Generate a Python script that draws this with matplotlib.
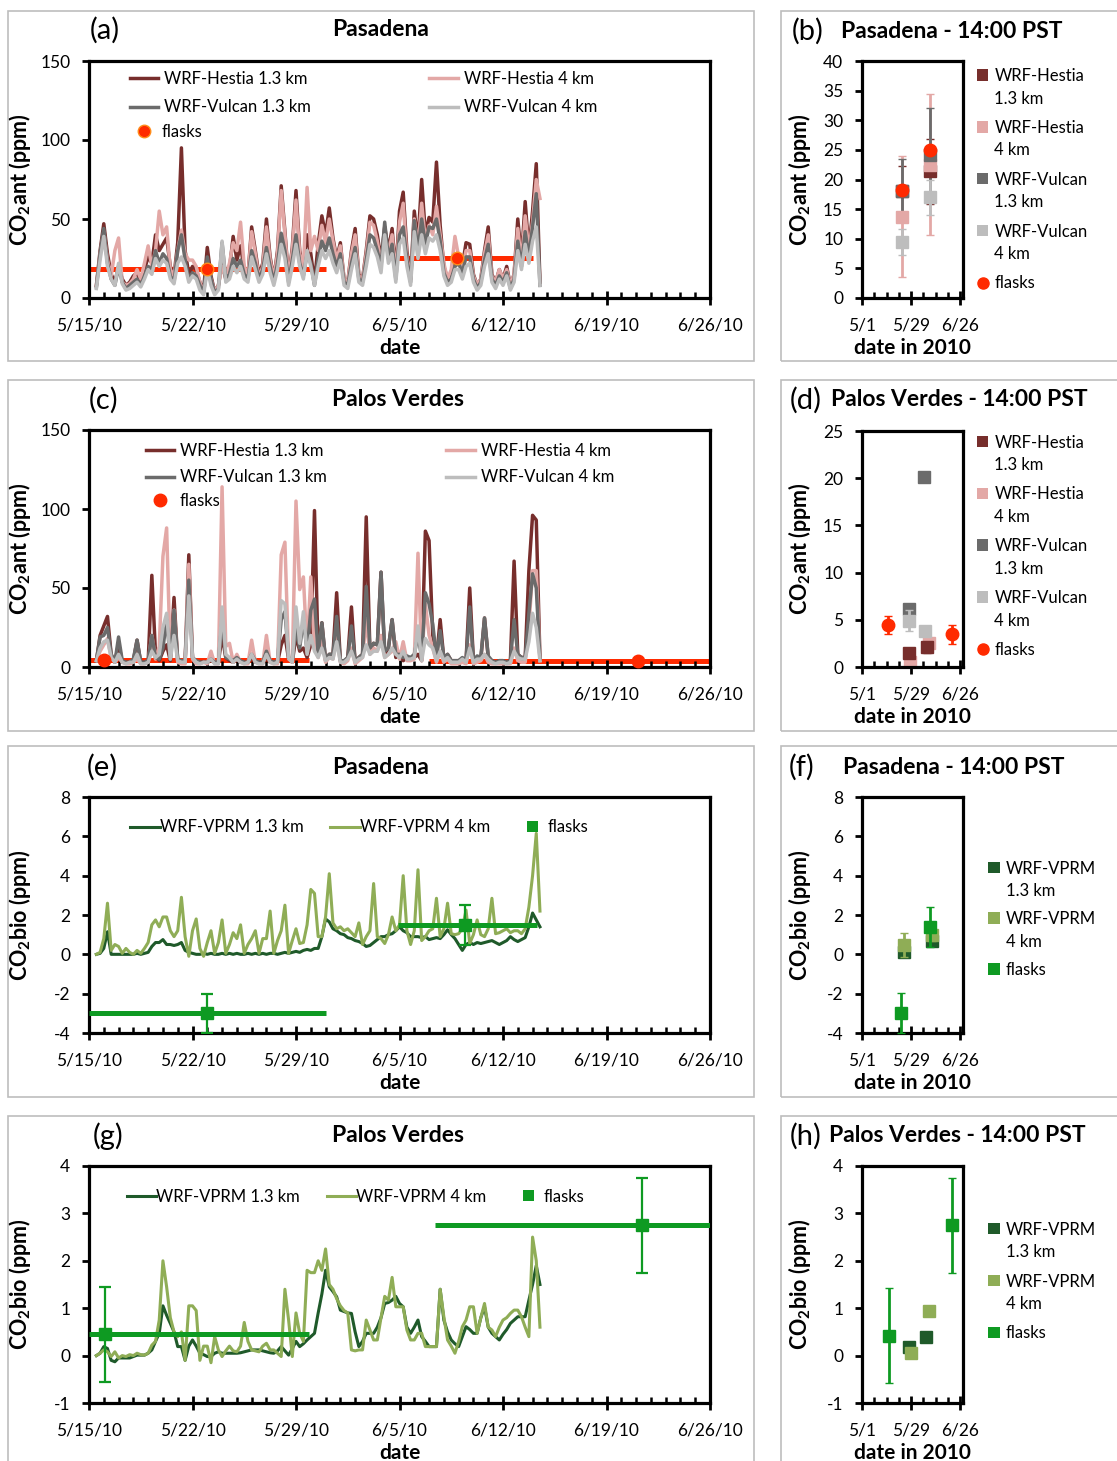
import numpy as np
import matplotlib.pyplot as plt
from matplotlib.patches import Rectangle
from matplotlib.lines import Line2D
from matplotlib.legend_handler import HandlerBase

plt.rcParams['font.family'] = ['Lato', 'DejaVu Sans']
plt.rcParams['mathtext.fontset'] = 'custom'
plt.rcParams['mathtext.rm'] = 'Lato'
plt.rcParams['mathtext.bf'] = 'Lato:bold'
plt.rcParams['axes.unicode_minus'] = False

# ---- model time series, every 6 h, days since 5/15/10 (first value at day 0.5)
a_h13 = [8, 30,
         47, 28, 15, 10, 20, 12, 8, 10, 14, 16, 9, 18, 26, 22, 40, 30,
         34, 38, 20, 14, 35, 95, 30, 15, 20, 18, 10, 5, 32, 14, 4, 8,
         22, 12, 18, 39, 24, 33, 18, 14, 45, 30, 14, 22, 50, 26, 12, 30,
         71, 42, 12, 32, 68, 30, 16, 40, 28, 10, 34, 52, 40, 57, 38, 25,
         35, 12, 10, 30, 44, 15, 12, 30, 52, 50, 40, 24, 45, 30, 44, 15,
         55, 67, 30, 12, 55, 35, 75, 40, 51, 48, 86, 46, 20, 12, 15, 25,
         28, 20, 35, 34, 15, 8, 12, 30, 45, 15, 10, 18, 12, 20, 8, 15,
         50, 25, 61, 30, 55, 85, 10]
a_h4 = [8, 28,
        42, 24, 14, 30, 38, 10, 8, 9, 12, 18, 12, 22, 33, 20, 30, 55,
        40, 45, 18, 14, 30, 43, 28, 24, 24, 20, 10, 4, 18, 12, 4, 8,
        20, 14, 22, 35, 30, 48, 20, 14, 42, 28, 12, 20, 45, 24, 12, 28,
        68, 40, 12, 30, 62, 28, 20, 70, 30, 39, 30, 46, 35, 50, 36, 24,
        33, 12, 10, 28, 40, 14, 12, 28, 48, 46, 36, 22, 42, 28, 40, 14,
        48, 60, 26, 12, 50, 32, 60, 36, 46, 40, 58, 40, 22, 12, 18, 39,
        26, 18, 30, 30, 14, 8, 12, 28, 40, 14, 10, 18, 12, 18, 8, 15,
        44, 22, 52, 30, 48, 75, 63]
a_v13 = [7, 28,
         44, 22, 12, 8, 20, 10, 6, 8, 10, 12, 8, 14, 20, 18, 30, 22,
         28, 25, 14, 10, 30, 40, 24, 12, 16, 14, 8, 3, 26, 12, 3, 6,
         35, 12, 15, 25, 20, 24, 15, 12, 30, 22, 12, 18, 32, 20, 10, 22,
         41, 30, 10, 24, 40, 22, 14, 28, 22, 8, 25, 36, 30, 38, 28, 20,
         28, 10, 8, 22, 32, 12, 10, 24, 40, 38, 30, 20, 48, 25, 34, 12,
         40, 45, 24, 10, 49, 30, 50, 34, 45, 44, 50, 36, 16, 10, 12, 20,
         22, 16, 26, 26, 12, 6, 10, 24, 34, 12, 8, 14, 10, 16, 6, 12,
         36, 20, 42, 26, 45, 66, 8]
a_v4 = [6, 24,
        39, 20, 12, 8, 22, 9, 5, 6, 8, 10, 7, 12, 18, 15, 25, 20,
        24, 22, 12, 9, 22, 26, 20, 10, 14, 12, 5, 2, 18, 8, 2, 5,
        36, 10, 12, 20, 16, 20, 12, 10, 26, 18, 10, 15, 28, 16, 8, 18,
        34, 25, 8, 20, 34, 20, 12, 30, 20, 8, 20, 30, 25, 30, 22, 16,
        24, 8, 6, 18, 28, 10, 8, 20, 34, 32, 26, 16, 40, 22, 28, 10,
        34, 38, 20, 8, 42, 25, 40, 28, 38, 36, 40, 30, 14, 8, 10, 18,
        18, 12, 20, 22, 10, 5, 8, 20, 28, 10, 6, 12, 8, 14, 5, 10,
        30, 18, 34, 22, 36, 45, 8]

c_h13 = [4, 20,
         26, 32, 8, 3, 15, 3, 3, 3, 4, 17, 3, 3, 3, 58, 8, 4,
         10, 14, 4, 44, 4, 3, 3, 71, 6, 3, 3, 3, 3, 4, 3, 3,
         20, 6, 4, 3, 5, 3, 3, 3, 6, 3, 3, 3, 6, 3, 3, 3,
         14, 20, 5, 3, 20, 10, 12, 6, 14, 99, 8, 28, 4, 8, 8, 47,
         4, 3, 6, 38, 3, 6, 8, 95, 10, 15, 14, 60, 8, 12, 30, 6,
         8, 4, 6, 5, 6, 8, 4, 86, 80, 20, 5, 30, 5, 8, 4, 4,
         4, 5, 4, 50, 4, 6, 5, 31, 6, 4, 3, 4, 4, 3, 4, 67,
         8, 6, 6, 61, 96, 93, 5]
c_h4 = [4, 10,
        14, 18, 6, 3, 6, 3, 2, 2, 3, 5, 2, 2, 3, 20, 5, 13,
        70, 88, 5, 36, 3, 2, 2, 65, 5, 2, 2, 3, 2, 10, 2, 2,
        114, 13, 15, 3, 8, 3, 2, 2, 17, 3, 2, 2, 20, 3, 2, 2,
        71, 79, 5, 3, 105, 49, 57, 10, 57, 12, 6, 20, 3, 6, 5, 20,
        3, 2, 4, 12, 2, 4, 6, 30, 8, 12, 10, 20, 6, 8, 10, 16,
        5, 16, 4, 4, 5, 72, 4, 40, 20, 12, 3, 10, 3, 5, 2, 2,
        2, 3, 2, 14, 2, 3, 4, 8, 3, 2, 2, 2, 2, 2, 2, 12,
        4, 3, 3, 25, 61, 61, 4]
c_v13 = [4, 19,
         20, 25, 8, 3, 19, 4, 3, 3, 5, 17, 3, 3, 4, 20, 6, 5,
         12, 30, 5, 36, 5, 4, 4, 55, 6, 4, 3, 3, 3, 5, 3, 3,
         30, 6, 5, 4, 6, 4, 3, 3, 8, 4, 3, 3, 10, 4, 3, 4,
         30, 35, 6, 4, 25, 12, 30, 10, 36, 43, 8, 28, 5, 8, 8, 32,
         4, 4, 6, 26, 4, 6, 8, 51, 12, 15, 14, 60, 10, 12, 30, 8,
         8, 6, 7, 6, 8, 20, 6, 47, 40, 27, 6, 23, 6, 8, 4, 4,
         4, 6, 4, 38, 4, 7, 6, 31, 7, 4, 3, 4, 4, 3, 4, 30,
         8, 6, 6, 34, 59, 50, 5]
c_v4 = [4, 12,
        16, 17, 6, 3, 8, 3, 2, 3, 3, 8, 2, 2, 3, 10, 6, 8,
        25, 34, 5, 20, 4, 3, 3, 45, 6, 3, 2, 3, 3, 5, 2, 2,
        38, 8, 6, 3, 5, 3, 2, 3, 8, 3, 2, 2, 8, 3, 2, 3,
        42, 40, 6, 3, 38, 15, 35, 8, 20, 10, 6, 12, 4, 6, 5, 16,
        3, 3, 5, 10, 3, 5, 6, 14, 8, 10, 10, 16, 6, 8, 12, 8,
        6, 10, 5, 5, 6, 26, 4, 18, 14, 12, 4, 10, 4, 6, 3, 3,
        3, 5, 3, 12, 3, 5, 5, 8, 5, 3, 2, 3, 3, 2, 3, 10,
        6, 5, 5, 16, 34, 25, 4]

e_vprm13 = [0.0, 0.05,
            0.3, 1.15, 0.0, 0.0, 0.0, 0.0, 0.0, 0.0, 0.0, 0.05, 0.0, 0.05,
            0.1, 0.4, 0.6, 0.6, 0.75, 0.5, 0.5, 0.45, 0.5, 0.6, 0.2, 0.1,
            0.05, 0.0, 0.0, 0.05, 0.0, 0.05, 0.0, 0.0, 0.05, 0.0, 0.05, 0.0,
            0.05, 0.0, 0.0, 0.05, 0.0, 0.05, 0.0, 0.05, 0.0, 0.05, 0.05, 0.0,
            0.05, 0.1, 0.05, 0.1, 0.15, 0.1, 0.2, 0.25, 0.2, 0.3, 0.3, 0.9,
            1.8, 1.65, 1.3, 1.2, 1.05, 1.0, 0.85, 0.8, 0.7, 0.65, 0.55, 0.4,
            0.45, 0.6, 0.75, 0.9, 0.9, 1.0, 1.05, 1.2, 1.4, 1.2, 1.1, 0.9,
            0.9, 0.9, 0.85, 0.9, 0.75, 0.8, 0.85, 0.8, 1.0, 1.25, 1.0, 0.8,
            0.5, 0.2, 0.5, 0.6, 0.5, 0.6, 0.55, 0.6, 0.65, 0.7, 0.6, 0.5,
            0.6, 0.7, 0.9, 0.75, 0.65, 0.75, 0.85, 1.4, 2.1, 1.75, 1.4]
e_vprm4 = [0.0, 0.1,
           0.8, 2.6, 0.2, 0.5, 0.4, 0.05, 0.3, 0.1, 0.0, 0.2, 0.05, 0.3,
           0.6, 1.5, 1.75, 1.4, 1.9, 1.9, 1.2, 0.9, 1.2, 2.9, 0.9, -0.1,
           1.2, 1.8, 0.3, -0.1, 0.6, 1.2, 0.05, 0.6, 1.75, 0.05, 0.5, 1.1,
           0.8, 1.5, 0.05, 0.5, 0.8, 1.2, 0.05, 0.8, 0.8, 2.2, 0.05, 0.7,
           1.2, 2.5, 0.05, 0.7, 1.3, 0.55, 0.6, 1.5, 3.3, 3.1, 0.9, 0.9,
           1.9, 4.1, 1.6, 1.3, 1.4, 1.2, 1.3, 1.1, 0.9, 1.6, 0.5, 0.9,
           1.2, 3.6, 0.9, 0.8, 0.55, 1.0, 1.9, 1.2, 1.5, 4.0, 1.2, 0.5,
           1.2, 4.3, 0.7, 0.9, 1.2, 1.3, 2.85, 0.9, 1.3, 2.6, 1.05, 1.0,
           1.05, 1.3, 2.25, 0.55, 1.0, 1.75, 1.0, 0.9, 1.3, 2.85, 1.05, 1.1,
           1.2, 1.3, 1.1, 1.2, 1.2, 1.05, 1.3, 2.4, 4.0, 6.15, 2.2]

g_vprm13 = [0.0, 0.05,
            0.19, 0.15, -0.1, -0.13, -0.05, -0.05, -0.05, -0.05,
            -0.02, 0.01, 0.01, 0.01, 0.05, 0.12, 0.3, 0.47,
            1.05, 0.85, 0.68, 0.5, 0.19, 0.19, -0.1, 0.2,
            0.33, 0.2, 0.05, 0.02, -0.02, -0.02, 0.05, 0.08,
            0.05, 0.05, 0.05, 0.05, 0.05, 0.06, 0.08, 0.1,
            0.12, 0.12, 0.12, 0.1, 0.08, 0.06, 0.05, 0.1,
            0.19, 0.1, 0.01, 0.15, 0.3, 0.19, 0.25, 0.33,
            0.4, 0.47, 0.9, 1.3, 1.8, 1.45, 1.35, 1.24,
            0.96, 0.93, 0.9, 0.89, 0.5, 0.19, 0.3, 0.47,
            0.47, 0.47, 0.6, 0.8, 1.1, 1.12, 1.17, 1.25,
            1.1, 1.03, 0.6, 0.47, 0.6, 0.75, 0.4, 0.3,
            0.19, 0.19, 0.19, 1.4, 0.75, 0.5, 0.33, 0.25,
            0.19, 0.4, 0.61, 0.55, 0.47, 0.47, 0.8, 1.03,
            0.6, 0.47, 0.4, 0.33, 0.45, 0.55, 0.68, 0.75,
            0.82, 0.82, 0.82, 1.17, 1.5, 1.9, 1.5]
g_vprm4 = [0.0, 0.05,
           0.12, 0.08, -0.02, 0.08, -0.05, 0.0, -0.02, 0.02,
           0.0, 0.05, 0.02, 0.01, 0.05, 0.22, 0.3, 0.75,
           2.0, 1.45, 0.8, 0.5, 0.4, 0.5, -0.1, 1.05,
           1.05, 0.95, -0.1, 0.2, 0.2, -0.15, 0.4, 0.12,
           -0.02, 0.1, 0.2, 0.1, 0.08, 0.2, 0.7, 0.3,
           0.12, 0.1, 0.08, 0.2, 0.26, 0.12, 0.12, 0.05,
           -0.02, 1.4, 0.75, -0.02, 0.9, 0.47, 0.3, 1.8,
           1.75, 1.75, 2.0, 1.8, 2.25, 1.5, 1.4, 1.2,
           1.05, 0.95, 0.9, 0.12, 0.1, 0.12, 0.12, 0.75,
           0.54, 0.33, 0.33, 0.8, 1.25, 1.17, 1.65, 1.03,
           1.03, 1.03, 0.54, 0.33, 0.33, 0.47, 0.47, 0.19,
           0.19, 0.19, 0.19, 1.4, 0.82, 0.33, 0.2, 0.05,
           0.3, 0.61, 0.75, 1.03, 1.03, 0.47, 0.8, 1.1,
           0.6, 0.54, 0.4, 0.6, 0.75, 0.8, 0.89, 0.96,
           0.96, 0.82, 0.6, 0.4, 2.5, 2.0, 0.6]

# ---- flask samples in the time-series panels (day since 5/15, value, window)
a_flask_t = [8.0, 24.9]
a_flask_v = [18.5, 25.3]
a_flask_win = [[8.0, 4.0], [8.0, 5.1]]
c_flask_t = [1.0, 37.1]
c_flask_v = [4.5, 3.5]
c_flask_win = [[1.0, 14.1], [13.9, 14.0]]
e_flask_t = [8.0, 25.4]
e_flask_v = [-3.0, 1.5]
e_flask_win = [[8.0, 4.5], [8.0, 4.9]]
e_flask_err = [1.0, 1.0]
g_flask_t = [1.05, 37.4]
g_flask_v = [0.45, 2.75]
g_flask_win = [[1.05, 14.0], [13.85, 14.0]]
g_flask_err = [1.0, 1.0]

# ---- 14:00 PST panels (day since 5/1)
b_x = [22.5, 38.8]
b_h13, b_h13_err = [18.0, 21.4], [4.3, 5.5]
b_h4, b_h4_err = [13.7, 22.5], [10.2, 11.9]
b_v13, b_v13_err = [18.1, 24.2], [5.3, 7.9]
b_v4, b_v4_err = [9.5, 17.0], [2.2, 3.0]
b_flask = [18.3, 25.0]

d_flask_x, d_flask, d_flask_err = [15.0, 51.0], [4.45, 3.46], [1.0, 1.0]
d_h13_x, d_h13, d_h13_err = [26.8, 36.8], [1.5, 2.15], [0.3, 0.7]
d_h4_x, d_h4 = [27.5, 38.0], [0.55, 2.5]
d_v13_x, d_v13 = [26.8, 35.5], [6.1, 20.1]
d_v4_x, d_v4, d_v4_err = [26.8, 36.0], [4.9, 3.8], [1.1, 0.5]

f_flask_x, f_flask, f_flask_err = [22.4, 38.8], [-2.99, 1.39], [1.0, 1.0]
f_v13_x, f_v13 = [23.8, 39.7], [0.12, 0.7]
f_v4_x, f_v4, f_v4_err = [23.8, 39.7], [0.46, 1.0], [0.6, 0.3]

h_flask_x, h_flask, h_flask_err = [15.4, 51.2], [0.42, 2.75], [1.0, 1.0]
h_v13_x, h_v13 = [26.9, 36.5], [0.18, 0.4]
h_v4_x, h_v4 = [27.8, 38.2], [0.06, 0.95]

left_ticklabels = ['5/15/10', '5/22/10', '5/29/10', '6/5/10', '6/12/10', '6/19/10', '6/26/10']
right_ticklabels = ['5/1', '5/29', '6/26']

C_H13, C_H4, C_V13, C_V4 = '#772e2c', '#e3a8a6', '#6b6b6b', '#bdbdbd'
C_RED, C_REDEDGE = '#ff2a00', '#ff8c1a'
C_G13, C_G4, C_GF = '#1f5a2a', '#8fad56', '#0e9a22'

W, H = 1117, 1461
fig = plt.figure(figsize=(W / 100, H / 100), dpi=100)

FS = 12.5      # tick labels
LFS = 12       # legends


def px_axes(l, r, top, bot):
    return fig.add_axes([l / W, 1 - bot / H, (r - l) / W, (bot - top) / H])


def frame(l, r, top, bot):
    fig.add_artist(Rectangle((l / W, 1 - bot / H), (r - l) / W, (bot - top) / H,
                             transform=fig.transFigure, fill=False, ec='#bdbdbd', lw=1.2))


def head(xl, xt, y, letter, title, center=True):
    fig.text(xl / W, 1 - y / H, letter, fontsize=21, ha='center', va='center')
    fig.text(xt / W, 1 - y / H, title, fontsize=16.5, fontweight='bold',
             ha='center' if center else 'left', va='center')


def style(ax, xmax, major, minor, labels, ylo, yhi, ystep, xlabel, ylabel, ylab_x):
    ax.set_xlim(0, xmax)
    ax.set_ylim(ylo, yhi)
    ax.set_xticks(major)
    ax.set_xticklabels(labels)
    ax.set_xticks(minor, minor=True)
    ax.set_yticks(np.arange(ylo, yhi + 0.001, ystep))
    ax.set_yticklabels(['%g' % v for v in np.arange(ylo, yhi + 0.001, ystep)])
    for s in ax.spines.values():
        s.set_linewidth(2.3)
    ax.tick_params(axis='x', which='major', direction='inout', length=10, width=2,
                   labelsize=FS, pad=9)
    ax.tick_params(axis='x', which='minor', direction='in', length=4.5, width=1.8)
    ax.tick_params(axis='y', which='major', direction='out', length=5, width=2,
                   labelsize=FS, pad=8.5)
    ax.set_xlabel(xlabel, fontweight='bold', fontsize=15, labelpad=3)
    ax.set_ylabel(ylabel, fontweight='bold', fontsize=15.5)
    ax.yaxis.set_label_coords(ylab_x, 0.5)


class TopSquare(HandlerBase):
    def __init__(self, shift):
        super().__init__()
        self.shift = shift

    def create_artists(self, legend, orig_handle, xdescent, ydescent, width, height,
                       fontsize, trans):
        s = 0.68 * fontsize
        x0 = width / 2 - s / 2 - xdescent
        y0 = height / 2 - s / 2 - ydescent + self.shift * fontsize
        return [Rectangle((x0, y0), s, s, fc=orig_handle.get_markerfacecolor(),
                          ec='none', transform=trans)]


def sq(c):
    return Line2D([], [], ls='none', marker='s', mfc=c, mec=c)


def side_legend(ax, entries, extra, anchor, spacing=0.8):
    handles = [sq(c) for c, _ in entries]
    labels = [lab for _, lab in entries]
    hmap = {h: TopSquare(0.78 if '\n' in lab else 0.0) for h, lab in zip(handles, labels)}
    if extra is not None:
        handles.append(extra)
        labels.append('flasks')
    leg = ax.legend(handles, labels, handler_map=hmap, loc='upper left',
                    bbox_to_anchor=anchor, frameon=False, fontsize=LFS, handlelength=0.8,
                    handletextpad=0.3, labelspacing=spacing, borderaxespad=0, borderpad=0)
    for tx in leg.get_texts():
        tx.set_linespacing(1.5)
    return leg


def line_legend(ax, handles, labels, anchor, hmap=None, ncol=1, spacing=0.5, colsp=2.0,
                textpad=0.35, hlen=1.7):
    return ax.legend(handles, labels, handler_map=hmap, ncol=ncol, loc='upper left',
                     bbox_to_anchor=anchor, frameon=False, fontsize=LFS, handlelength=hlen,
                     handletextpad=textpad, columnspacing=colsp, labelspacing=spacing,
                     borderaxespad=0, borderpad=0)


lt = lambda arr: 0.5 + 0.25 * np.arange(len(arr))
ylab_ant = r'CO$_\mathbf{2}$ant (ppm)'
ylab_bio = r'CO$_\mathbf{2}$bio (ppm)'
left_major = np.arange(0, 43, 7)
left_minor = np.arange(0, 43, 1)
right_major = [0, 28, 56]
right_minor = np.arange(0, 57, 7)
YL_LEFT, YL_RIGHT = -0.09, -0.49
ant_labels = ['WRF-Hestia 1.3 km', 'WRF-Vulcan 1.3 km', 'WRF-Hestia 4 km', 'WRF-Vulcan 4 km']
bio_labels = ['WRF-VPRM 1.3 km', 'WRF-VPRM 4 km', 'flasks']

# frames
for top, bot in [(11, 361), (380, 731), (746, 1097), (1116, 1475)]:
    frame(8, 754, top, bot)
    frame(781, 1130, top, bot)

ent = [(C_H13, 'WRF-Hestia\n1.3 km'), (C_H4, 'WRF-Hestia\n4 km'),
       (C_V13, 'WRF-Vulcan\n1.3 km'), (C_V4, 'WRF-Vulcan\n4 km')]
entg = [(C_G13, 'WRF-VPRM\n1.3 km'), (C_G4, 'WRF-VPRM\n4 km'), (C_GF, 'flasks')]

# ================= (a)
ax = px_axes(89, 710, 61, 298)
ax.errorbar(a_flask_t, a_flask_v, xerr=a_flask_win, fmt='none', ecolor=C_RED,
            elinewidth=3.6, capsize=0, zorder=1)
la1, = ax.plot(lt(a_h13), a_h13, color=C_H13, lw=2.5, zorder=2)
la2, = ax.plot(lt(a_h4), a_h4, color=C_H4, lw=2.5, zorder=3)
la3, = ax.plot(lt(a_v13), a_v13, color=C_V13, lw=2.5, zorder=4)
la4, = ax.plot(lt(a_v4), a_v4, color=C_V4, lw=2.5, zorder=5)
fa, = ax.plot(a_flask_t, a_flask_v, 'o', ms=9, mfc=C_RED, mec=C_REDEDGE, mew=1, zorder=6)
style(ax, 42, left_major, left_minor, left_ticklabels, 0, 150, 50, 'date', ylab_ant, YL_LEFT)
leg = line_legend(ax, [la1, la3, la2, la4], ant_labels, (0.066, 0.958), ncol=2,
                  spacing=0.75, colsp=7.1)
ax.add_artist(leg)
line_legend(ax, [fa], ['flasks'], (0.066, 0.733), textpad=0.2)
head(105, 381, 30, '(a)', 'Pasadena')

# ================= (b)
ax = px_axes(862, 963, 61, 298)
ax.errorbar(b_x, b_h13, yerr=b_h13_err, fmt='s', ms=8, color=C_H13, elinewidth=2, capsize=3)
ax.errorbar(b_x, b_h4, yerr=b_h4_err, fmt='s', ms=8, color=C_H4, elinewidth=2, capsize=3)
ax.errorbar(b_x, b_v13, yerr=b_v13_err, fmt='s', ms=8, color=C_V13, elinewidth=2, capsize=3)
ax.errorbar(b_x, b_v4, yerr=b_v4_err, fmt='s', ms=8, color=C_V4, elinewidth=2, capsize=3)
ax.plot(b_x, b_flask, 'o', ms=9, mfc=C_RED, mec=C_RED, zorder=6)
style(ax, 57.5, right_major, right_minor, right_ticklabels, 0, 40, 5, 'date in 2010', ylab_ant, YL_RIGHT)
fb = Line2D([], [], ls='none', marker='o', ms=8, mfc=C_RED, mec=C_RED)
side_legend(ax, ent, fb, (1.13, 0.97))
head(808, 841, 31, '(b)', 'Pasadena - 14:00 PST', center=False)

# ================= (c)
ax = px_axes(89, 710, 430, 667)
ax.errorbar(c_flask_t, c_flask_v, xerr=c_flask_win, fmt='none', ecolor=C_RED,
            elinewidth=3.6, capsize=0, zorder=1)
lc1, = ax.plot(lt(c_h13), c_h13, color=C_H13, lw=2.5, zorder=2)
lc2, = ax.plot(lt(c_h4), c_h4, color=C_H4, lw=2.5, zorder=3)
lc3, = ax.plot(lt(c_v13), c_v13, color=C_V13, lw=2.5, zorder=4)
lc4, = ax.plot(lt(c_v4), c_v4, color=C_V4, lw=2.5, zorder=5)
fc, = ax.plot(c_flask_t, c_flask_v, 'o', ms=9, mfc=C_RED, mec=C_RED, zorder=6, clip_on=False)
style(ax, 42, left_major, left_minor, left_ticklabels, 0, 150, 50, 'date', ylab_ant, YL_LEFT)
leg = line_legend(ax, [lc1, lc3, lc2, lc4], ant_labels, (0.092, 0.945), ncol=2,
                  spacing=0.62, colsp=7.15)
ax.add_artist(leg)
line_legend(ax, [fc], ['flasks'], (0.092, 0.735), textpad=0.3)
head(104, 398, 400, '(c)', 'Palos Verdes')

# ================= (d)
ax = px_axes(862, 963, 431, 667)
ax.errorbar(d_h13_x, d_h13, yerr=d_h13_err, fmt='s', ms=8, color=C_H13, elinewidth=2, capsize=3)
ax.plot(d_h4_x, d_h4, 's', ms=8, color=C_H4)
ax.plot(d_v13_x, d_v13, 's', ms=8, color=C_V13)
ax.errorbar(d_v4_x, d_v4, yerr=d_v4_err, fmt='s', ms=8, color=C_V4, elinewidth=2, capsize=3)
ax.errorbar(d_flask_x, d_flask, yerr=d_flask_err, fmt='o', ms=9, color=C_RED, elinewidth=2,
            capsize=3, zorder=6)
style(ax, 57.5, right_major, right_minor, right_ticklabels, 0, 25, 5, 'date in 2010', ylab_ant, YL_RIGHT)
side_legend(ax, ent, fb, (1.13, 0.985))
head(806, 831, 400, '(d)', 'Palos Verdes - 14:00 PST', center=False)

# ================= (e)
ax = px_axes(89, 710, 797, 1033)
le1, = ax.plot(lt(e_vprm13), e_vprm13, color=C_G13, lw=2.2, zorder=2)
le2, = ax.plot(lt(e_vprm4), e_vprm4, color=C_G4, lw=2.2, zorder=3)
ax.errorbar(e_flask_t, e_flask_v, xerr=e_flask_win, fmt='none', ecolor=C_GF,
            elinewidth=3.6, capsize=0, zorder=4)
ax.errorbar(e_flask_t, e_flask_v, yerr=e_flask_err, fmt='s', ms=9, color=C_GF,
            elinewidth=1.6, capsize=4, capthick=1.6, zorder=5)
style(ax, 42, left_major, left_minor, left_ticklabels, -4, 8, 2, 'date', ylab_bio, YL_LEFT)
fe = sq(C_GF)
line_legend(ax, [le1, le2, fe], bio_labels, (0.066, 0.905), hmap={fe: TopSquare(0.0)},
            ncol=3, colsp=1.6, textpad=0.0, hlen=1.8)
head(102, 381, 767, '(e)', 'Pasadena')

# ================= (f)
ax = px_axes(862, 963, 797, 1033)
ax.plot(f_v13_x, f_v13, 's', ms=8, color=C_G13)
ax.errorbar(f_v4_x, f_v4, yerr=f_v4_err, fmt='s', ms=8, color=C_G4, elinewidth=2, capsize=3)
ax.errorbar(f_flask_x, f_flask, yerr=f_flask_err, fmt='s', ms=9, color=C_GF, elinewidth=2,
            capsize=3, zorder=6, clip_on=False)
style(ax, 57.5, right_major, right_minor, right_ticklabels, -4, 8, 2, 'date in 2010', ylab_bio, YL_RIGHT)
side_legend(ax, entg, None, (1.24, 0.73), spacing=0.72)
head(802, 843, 767, '(f)', 'Pasadena - 14:00 PST', center=False)

# ================= (g)
ax = px_axes(89, 710, 1166, 1403)
lg1, = ax.plot(lt(g_vprm13), g_vprm13, color=C_G13, lw=2.2, zorder=2)
lg2, = ax.plot(lt(g_vprm4), g_vprm4, color=C_G4, lw=2.2, zorder=3)
ax.errorbar(g_flask_t, g_flask_v, xerr=g_flask_win, fmt='none', ecolor=C_GF,
            elinewidth=3.6, capsize=0, zorder=4)
ax.errorbar(g_flask_t, g_flask_v, yerr=g_flask_err, fmt='s', ms=9, color=C_GF,
            elinewidth=1.6, capsize=4, capthick=1.6, zorder=5)
style(ax, 42, left_major, left_minor, left_ticklabels, -1, 4, 1, 'date', ylab_bio, YL_LEFT)
fg = sq(C_GF)
line_legend(ax, [lg1, lg2, fg], bio_labels, (0.061, 0.905), hmap={fg: TopSquare(0.0)},
            ncol=3, colsp=1.65, textpad=0.0, hlen=1.75)
head(108, 398, 1136, '(g)', 'Palos Verdes')

# ================= (h)
ax = px_axes(862, 963, 1166, 1403)
ax.plot(h_v13_x, h_v13, 's', ms=8, color=C_G13)
ax.plot(h_v4_x, h_v4, 's', ms=8, color=C_G4)
ax.errorbar(h_flask_x, h_flask, yerr=h_flask_err, fmt='s', ms=9, color=C_GF, elinewidth=2,
            capsize=3, zorder=6)
style(ax, 57.5, right_major, right_minor, right_ticklabels, -1, 4, 1, 'date in 2010', ylab_bio, YL_RIGHT)
side_legend(ax, entg, None, (1.24, 0.765), spacing=0.8)
head(806, 829, 1136, '(h)', 'Palos Verdes - 14:00 PST', center=False)

fig.savefig('out.png', dpi=100)
